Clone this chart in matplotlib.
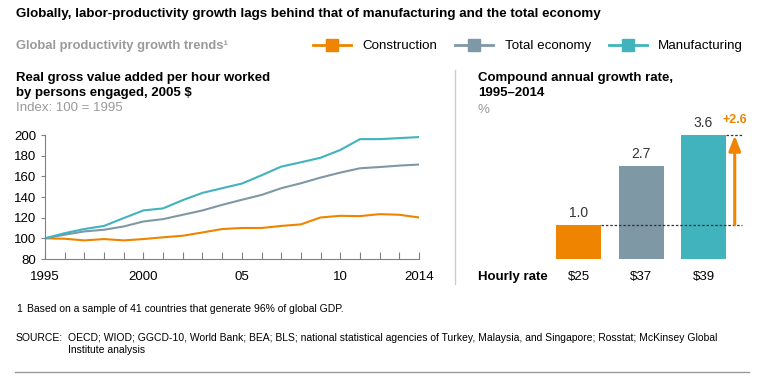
import matplotlib.pyplot as plt
from matplotlib.lines import Line2D

plt.rcParams['font.family'] = ['Liberation Sans', 'DejaVu Sans']

years = list(range(1995, 2015))
construction = [100, 99.6, 98, 99.3, 98, 99.3, 101, 102.5, 105.7, 109, 110, 110,
                112, 113.5, 120.2, 121.8, 121.5, 123.4, 122.8, 120.2]
total_economy = [100, 103.5, 106.7, 108.3, 111.5, 116.3, 118.6, 122.8, 127, 132.4,
                 137.3, 142, 148.5, 153.3, 158.8, 163.6, 167.8, 169, 170.4, 171.4]
manufacturing = [100, 105, 109, 112, 119.6, 127, 129, 137, 144, 148.5, 153, 161,
                 169.4, 173.6, 178, 185.5, 196, 196, 197, 198]

series_names = ['Construction', 'Total economy', 'Manufacturing']
cagr = [1.0, 2.7, 3.6]
hourly_rate = ['$25', '$37', '$39']
gap = 2.6

c_orange = '#EE8400'
c_gray = '#7F98A5'
c_teal = '#40B3BC'
colors = [c_orange, c_gray, c_teal]
txt_gray = '#9a9a9a'
fs = 9.5

W, H = 761, 382
fig = plt.figure(figsize=(W / 100, H / 100), dpi=100)

def fx(px):
    return px / W

def fy(py):
    return 1 - py / H

# texts at the top
fig.text(fx(16), fy(14), 'Globally, labor-productivity growth lags behind that of manufacturing and the total economy',
         fontsize=9.6, fontweight='bold', va='center', ha='left')
fig.text(fx(16), fy(46), 'Global productivity growth trends\u00b9', fontsize=9.4, fontweight='bold',
         color=txt_gray, va='center', ha='left')

handles = [Line2D([], [], color=c, lw=2, marker='s', markersize=9) for c in colors]
fig.legend(handles, series_names, loc='center left', bbox_to_anchor=(fx(313), fy(46)),
           ncol=3, frameon=False, fontsize=9.6, handlelength=2.85, handletextpad=0.85,
           columnspacing=1.35, borderpad=0, borderaxespad=0)

fig.text(fx(16), fy(78), 'Real gross value added per hour worked', fontsize=fs,
         fontweight='bold', va='center')
fig.text(fx(16), fy(93), 'by persons engaged, 2005 $', fontsize=fs, fontweight='bold', va='center')
fig.text(fx(16), fy(108), 'Index: 100 = 1995', fontsize=fs, color=txt_gray, va='center')

fig.text(fx(478), fy(78), 'Compound annual growth rate,', fontsize=fs, fontweight='bold', va='center')
fig.text(fx(478), fy(93), '1995\u20132014', fontsize=fs, fontweight='bold', va='center')
fig.text(fx(478), fy(110), '%', fontsize=fs, color=txt_gray, va='center')

# line chart
ax = fig.add_axes([fx(45), fy(259), fx(419) - fx(45), fy(135) - fy(259)])
ax.plot(years, construction, color=c_orange, lw=1.5)
ax.plot(years, total_economy, color=c_gray, lw=1.5)
ax.plot(years, manufacturing, color=c_teal, lw=1.5)
ax.set_xlim(1995, 2014)
ax.set_ylim(80, 200)
ax.set_yticks(range(80, 201, 20))
ax.set_xticks([1995, 2000, 2005, 2010, 2014])
ax.set_xticklabels(['1995', '2000', '05', '10', '2014'])
ax.set_xticks(years, minor=True)
for s in ['top', 'right']:
    ax.spines[s].set_visible(False)
for s in ['left', 'bottom']:
    ax.spines[s].set_color('#808080')
    ax.spines[s].set_linewidth(0.8)
ax.tick_params(axis='x', which='both', direction='in', length=5, color='#808080', width=0.8,
               pad=9, labelsize=fs)
ax.tick_params(axis='y', direction='out', length=3, color='#808080', width=0.8,
               pad=3.5, labelsize=fs)
ax.patch.set_alpha(0)

# separator
fig.add_artist(Line2D([fx(455), fx(455)], [fy(70), fy(284)], color='#cccccc', lw=1))

# bar chart
bx = fig.add_axes([fx(470), fy(259), fx(750) - fx(470), fy(121) - fy(259)])
xs = [0, 1, 2]
bw = 0.72
bx.bar(xs, cagr, width=bw, color=colors)
bx.set_xlim((470 - 578.5) / 62.5, (750 - 578.5) / 62.5)
bx.set_ylim(0, 4)
bx.axis('off')
for x, v in zip(xs, cagr):
    bx.text(x, v + 0.13, f'{v:.1f}', ha='center', va='bottom', fontsize=10, color='#333333')
x_end = 2.62
bx.plot([xs[0] + bw / 2, x_end], [cagr[0], cagr[0]], color='#333333', lw=0.9, ls=(0, (2, 1.5)))
bx.plot([xs[2] + bw / 2, x_end], [cagr[2], cagr[2]], color='#333333', lw=0.9, ls=(0, (2, 1.5)))
x_arr = 2.5
bx.annotate('', xy=(x_arr, cagr[2] - 0.02), xytext=(x_arr, cagr[0]),
            arrowprops=dict(arrowstyle='-|>,head_length=0.9,head_width=0.35', color=c_orange, lw=2.2,
                            shrinkA=0, shrinkB=0))
bx.text(x_arr, cagr[2] + 0.25, f'+{gap}', color=c_orange, fontsize=9, fontweight='bold',
        ha='center', va='bottom', clip_on=False)

fig.text(fx(478), fy(277), 'Hourly rate', fontsize=fs, fontweight='bold', va='center')
for x, r in zip(xs, hourly_rate):
    bx.text(x, -18 / 34.5, r, ha='center', va='center', fontsize=fs, clip_on=False)

# footnotes
foot = ['Liberation Sans Narrow', 'Liberation Sans', 'DejaVu Sans']
ffs = 7.5
fig.text(fx(16), fy(309), '1', fontsize=ffs, family=foot, va='center')
fig.text(fx(27), fy(309), 'Based on a sample of 41 countries that generate 96% of global GDP.',
         fontsize=ffs, family=foot, va='center')
fig.text(fx(16), fy(338), 'SOURCE:', fontsize=ffs, family=foot, va='center')
fig.text(fx(68), fy(338), 'OECD; WIOD; GGCD-10, World Bank; BEA; BLS; national statistical agencies of Turkey, '
         'Malaysia, and Singapore; Rosstat; McKinsey Global', fontsize=ffs, family=foot, va='center')
fig.text(fx(68), fy(350), 'Institute analysis', fontsize=ffs, family=foot, va='center')
fig.add_artist(Line2D([fx(15), fx(749)], [fy(372), fy(372)], color='#999999', lw=1))

fig.savefig('out.png', dpi=100)
